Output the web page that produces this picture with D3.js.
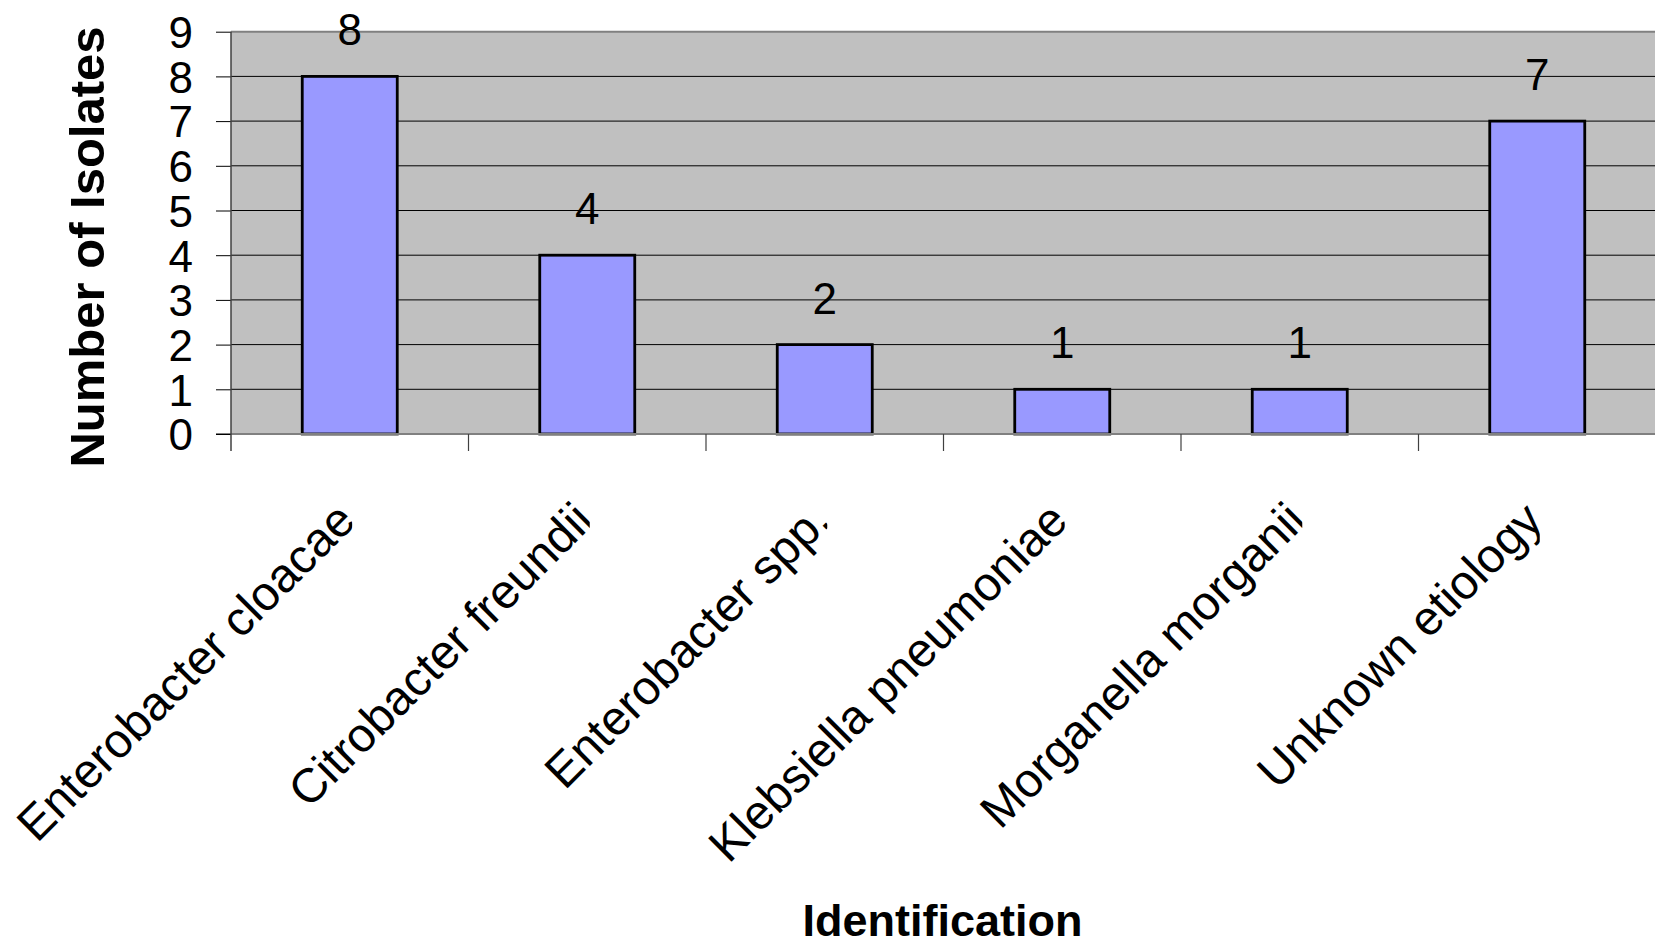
<!DOCTYPE html>
<html>
<head>
<meta charset="utf-8">
<script src="https://cdn.jsdelivr.net/npm/d3@7"></script>
<style>
  html, body { margin: 0; padding: 0; background: #ffffff; }
  svg { display: block; }
  text { font-family: Arial, "Liberation Sans", sans-serif; fill: #000; }
</style>
</head>
<body>
<svg id="chart" width="1655" height="948"></svg>
<script>
// Isolates per identification
const categories = [
  "Enterobacter cloacae",
  "Citrobacter freundii",
  "Enterobacter spp.",
  "Klebsiella pneumoniae",
  "Morganella morganii",
  "Unknown etiology"
];
const isolates = [8, 4, 2, 1, 1, 7];
const yTicks = [0, 1, 2, 3, 4, 5, 6, 7, 8, 9];
const yTitle = "Number of Isolates";
const xTitle = "Identification";

const svg = d3.select("#chart");

const plot = { left: 231, right: 1656, top: 31.7, bottom: 434 };

const x = d3.scaleBand()
  .domain(categories)
  .range([plot.left, plot.right])
  .paddingInner(0.6)
  .paddingOuter(0.3);

const y = d3.scaleLinear()
  .domain([0, 9])
  .range([plot.bottom, plot.top]);

const step = x.step();
const center = d => x(d) + x.bandwidth() / 2;

// plot area background
svg.append("rect")
  .attr("x", plot.left).attr("y", plot.top)
  .attr("width", plot.right - plot.left)
  .attr("height", plot.bottom - plot.top)
  .attr("fill", "#c0c0c0");

// horizontal gridlines
svg.append("g")
  .selectAll("line")
  .data(yTicks.filter(v => v > 0 && v < 9))
  .join("line")
  .attr("x1", plot.left).attr("x2", plot.right)
  .attr("y1", d => y(d)).attr("y2", d => y(d))
  .attr("stroke", "#000").attr("stroke-width", 1);

// plot border top
svg.append("line")
  .attr("x1", plot.left).attr("x2", plot.right)
  .attr("y1", y(9)).attr("y2", y(9))
  .attr("stroke", "#808080").attr("stroke-width", 2);

// bars
svg.append("g")
  .selectAll("rect")
  .data(categories)
  .join("rect")
  .attr("x", d => x(d))
  .attr("y", (d, i) => y(isolates[i]))
  .attr("width", x.bandwidth())
  .attr("height", (d, i) => y(0) - y(isolates[i]))
  .attr("fill", "#9999ff")
  .attr("stroke", "#000")
  .attr("stroke-width", 2.8);

// baseline
svg.append("line")
  .attr("x1", plot.left - 15).attr("x2", plot.right)
  .attr("y1", y(0)).attr("y2", y(0))
  .attr("stroke", "#808080").attr("stroke-width", 2);

// y axis
const yAxis = d3.axisLeft(y)
  .tickValues(yTicks)
  .tickFormat(d3.format("d"))
  .tickSize(15)
  .tickPadding(23);

const yg = svg.append("g")
  .attr("transform", `translate(${plot.left},0)`)
  .call(yAxis);
yg.select(".domain").remove();
yg.selectAll(".tick line").attr("stroke", "#000").attr("stroke-width", 1);
yg.selectAll(".tick text")
  .attr("font-size", 44)
  .attr("font-family", "Arial, 'Liberation Sans', sans-serif")
  .attr("fill", "#000")
  .attr("dy", "0.36em");

svg.append("line")
  .attr("x1", plot.left).attr("x2", plot.left)
  .attr("y1", plot.top).attr("y2", plot.bottom + 17)
  .attr("stroke", "#404040").attr("stroke-width", 1.5);

// category boundary ticks below the baseline
svg.append("g")
  .selectAll("line")
  .data(d3.range(1, categories.length + 1))
  .join("line")
  .attr("x1", i => plot.left + i * step).attr("x2", i => plot.left + i * step)
  .attr("y1", plot.bottom).attr("y2", plot.bottom + 17)
  .attr("stroke", "#404040").attr("stroke-width", 1.2);

// value labels
svg.append("g")
  .selectAll("text")
  .data(categories)
  .join("text")
  .attr("x", d => center(d))
  .attr("y", (d, i) => y(isolates[i]) - 31)
  .attr("text-anchor", "middle")
  .attr("font-size", 44)
  .text((d, i) => isolates[i]);

// rotated category labels, cut off at the bar centre
const defs = svg.append("defs");
categories.forEach((d, i) => {
  defs.append("clipPath")
    .attr("id", `lab-clip-${i}`)
    .attr("clipPathUnits", "userSpaceOnUse")
    .append("rect")
    .attr("x", 0).attr("y", 0)
    .attr("width", center(d) + 2.5).attr("height", 948);
});

svg.append("g")
  .selectAll("g")
  .data(categories)
  .join("g")
  .attr("clip-path", (d, i) => `url(#lab-clip-${i})`)
  .append("text")
  .attr("transform", d => `translate(${center(d) + 8},523) rotate(-45)`)
  .attr("text-anchor", "end")
  .attr("font-size", 48)
  .text(d => d);

// axis titles
svg.append("text")
  .attr("transform", "translate(104,247) rotate(-90)")
  .attr("text-anchor", "middle")
  .attr("font-size", 49)
  .attr("font-weight", "bold")
  .text(yTitle);

svg.append("text")
  .attr("x", 942.5).attr("y", 936)
  .attr("text-anchor", "middle")
  .attr("font-size", 45)
  .attr("font-weight", "bold")
  .text(xTitle);
</script>
</body>
</html>
